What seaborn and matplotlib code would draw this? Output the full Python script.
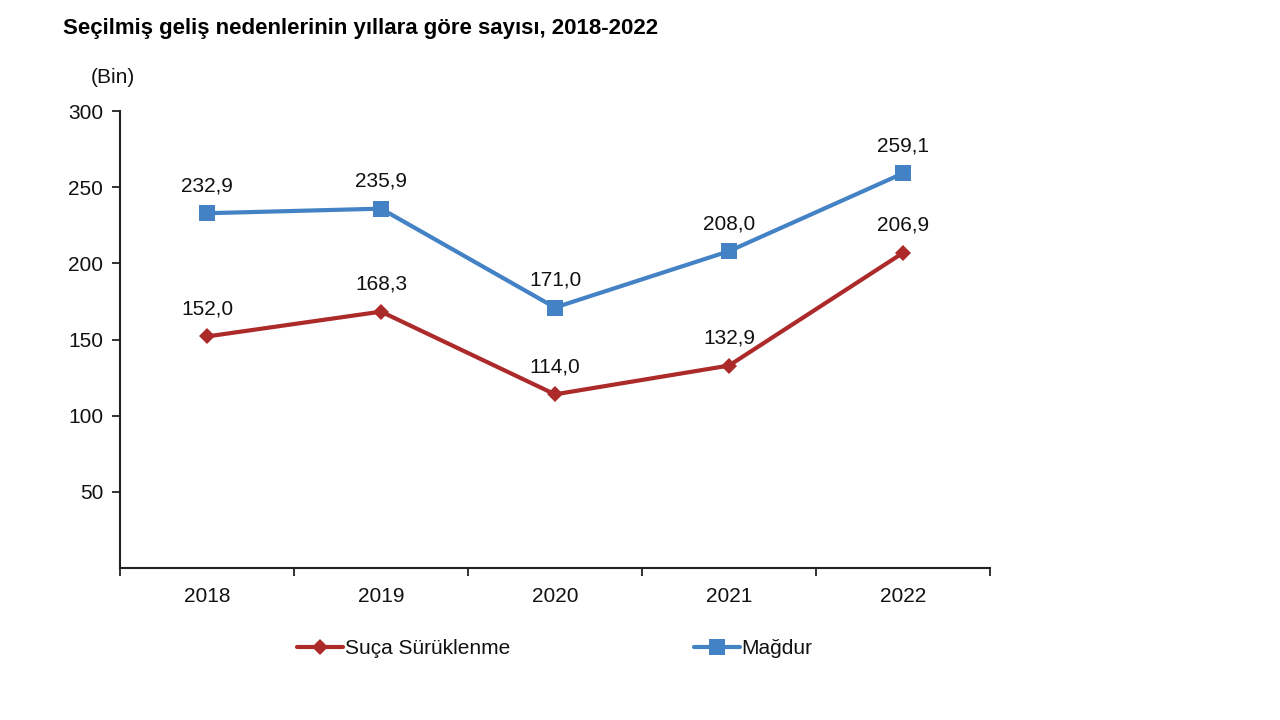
import pandas as pd
import matplotlib.pyplot as plt
import seaborn as sns

# Data (thousands)
years = ['2018', '2019', '2020', '2021', '2022']
suca = [152.0, 168.3, 114.0, 132.9, 206.9]
magdur = [232.9, 235.9, 171.0, 208.0, 259.1]
series_names = ['Suça Sürüklenme', 'Mağdur']
y_ticks = [50, 100, 150, 200, 250, 300]

df = pd.DataFrame({
    'pos': list(range(len(years))) * 2,
    'value': suca + magdur,
    'series': [series_names[0]] * len(years) + [series_names[1]] * len(years),
})

sns.set_style('white')
plt.rcParams['font.family'] = ['Liberation Sans', 'DejaVu Sans']
plt.rcParams['text.color'] = '#111111'

fig = plt.figure(figsize=(12.8, 7.2), dpi=100)
ax = fig.add_axes([0.09375, 0.2111, 0.6797, 0.6347])

colors = {'Suça Sürüklenme': '#AC2A2A', 'Mağdur': '#4482C6'}
markers = {'Suça Sürüklenme': 'D', 'Mağdur': 's'}
sizes = {'Suça Sürüklenme': 8.5, 'Mağdur': 11}

for name in series_names:
    sub = df[df['series'] == name]
    sns.lineplot(data=sub, x='pos', y='value', color=colors[name], marker=markers[name],
                 markersize=sizes[name], markeredgewidth=0, linewidth=3, ax=ax, label=name)
    for x, y in zip(sub['pos'], sub['value']):
        ax.annotate(f'{y:.1f}'.replace('.', ','), (x, y), xytext=(0, 13),
                    textcoords='offset points', ha='center', va='bottom', fontsize=15)

ax.set_xlim(-0.5, len(years) - 0.5)
ax.set_ylim(0, 300)
ax.set_xticks(range(len(years)))
ax.set_xticklabels(years, fontsize=15)
ax.set_xticks([i - 0.5 for i in range(len(years) + 1)], minor=True)
ax.tick_params(axis='x', which='major', bottom=True, length=0, pad=14, labelcolor='#111111')
ax.tick_params(axis='x', which='minor', bottom=True, length=6, width=1.3, direction='out', color='#222222')
ax.set_yticks(y_ticks)
ax.set_yticklabels([str(v) for v in y_ticks], fontsize=15)
ax.tick_params(axis='y', left=True, length=6, width=1.3, direction='out', color='#222222',
               pad=6, labelcolor='#111111')
ax.set_xlabel('')
ax.set_ylabel('')

for side in ['top', 'right']:
    ax.spines[side].set_visible(False)
for side in ['left', 'bottom']:
    ax.spines[side].set_color('#222222')
    ax.spines[side].set_linewidth(1.5)

ax.legend(loc='upper center', bbox_to_anchor=(0.5, -0.115), ncol=2, frameon=False,
          fontsize=15, columnspacing=8.8, handlelength=2.2, handletextpad=0.1)

fig.text(0.049, 0.96, 'Seçilmiş geliş nedenlerinin yıllara göre sayısı, 2018-2022',
         fontsize=16, fontweight='bold', va='center', ha='left', color='black')
fig.text(0.088, 0.893, '(Bin)', fontsize=15, ha='center', va='center')

fig.savefig('out.png', dpi=100)
